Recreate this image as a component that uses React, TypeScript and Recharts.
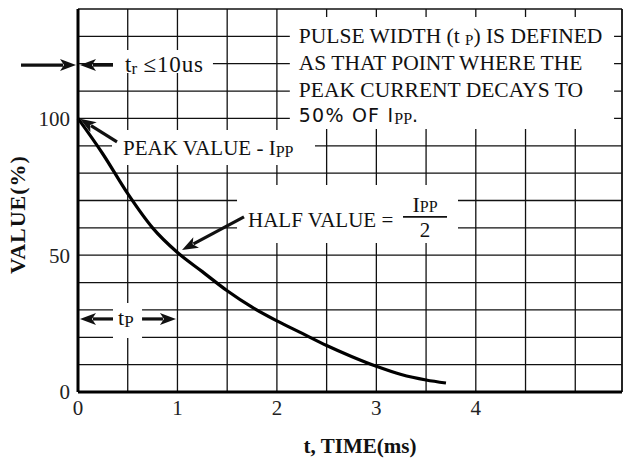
import React from "react";
import {
  LineChart,
  Line,
  XAxis,
  YAxis,
  CartesianGrid,
  ReferenceArea,
  ReferenceLine,
  Label,
} from "recharts";

// curve (t in ms, value in %)
const timeMs = [0, 0.25, 0.5, 0.75, 1, 1.25, 1.5, 1.75, 2, 2.25, 2.5, 2.75, 3, 3.25, 3.5, 3.7];
const valuePct = [100, 87, 72.5, 60, 51, 44, 37, 31, 26, 21.5, 17, 13, 9.4, 6.4, 4.4, 3.3];

const xGridTicks = [0, 0.5, 1, 1.5, 2, 2.5, 3, 3.5, 4, 4.5, 5];
const xTickLabels = [0, 1, 2, 3, 4];
const yGridTicks = [0, 10, 20, 30, 40, 50, 60, 70, 80, 90, 100, 110, 120, 130, 140];
const yTickLabels = [0, 50, 100];

const X_MAX = 5.47;
const Y_MAX = 140;

const chartData = timeMs.map((t, i) => ({ t, v: valuePct[i] }));

const SERIF = "'Liberation Serif', 'Times New Roman', serif";
const SANS = "'DejaVu Sans', sans-serif";
const INK = "#111";

// line with a filled arrowhead at (x2, y2)
const Arrow = (props: any) => {
  const { x1, y1, x2, y2 } = props;
  const ang = Math.atan2(y2 - y1, x2 - x1);
  const c = Math.cos(ang);
  const s = Math.sin(ang);
  const len = 16;
  const half = 6;
  const bx = x2 - len * c;
  const by = y2 - len * s;
  const px = -s * half;
  const py = c * half;
  return (
    <g>
      <line x1={x1} y1={y1} x2={bx + c * 3} y2={by + s * 3} stroke={INK} strokeWidth={3.2} />
      <polygon points={`${x2},${y2} ${bx + px},${by + py} ${bx + 4 * c},${by + 4 * s} ${bx - px},${by - py}`} fill={INK} />
    </g>
  );
};

const boxProps = { fill: "#fff", fillOpacity: 1, stroke: "none", ifOverflow: "visible" as const };

export default function App() {
  return (
    <div style={{ position: "absolute", left: 0, top: 0, width: 623, height: 459, background: "#fff" }}>
      <LineChart width={623} height={459} data={chartData} margin={{ top: 9, right: 1, bottom: 0, left: 0 }}>
        <CartesianGrid stroke={INK} strokeWidth={1.3} />
        <XAxis
          type="number"
          dataKey="t"
          domain={[0, X_MAX]}
          ticks={xGridTicks}
          interval={0}
          height={67}
          tickLine={false}
          axisLine={{ stroke: "#000", strokeWidth: 3 }}
          tick={{ fill: "#222", fontSize: 21, fontFamily: SERIF }}
          tickFormatter={(v: number) => (xTickLabels.includes(v) ? String(v) : "")}
        >
          <Label
            content={({ viewBox }: any) => (
              <text
                x={viewBox.x + viewBox.width / 2 + 10}
                y={viewBox.y + viewBox.height - 6}
                textAnchor="middle"
                fontFamily={SERIF}
                fontWeight="bold"
                fontSize={21}
                fill={INK}
              >
                t, TIME(ms)
              </text>
            )}
          />
        </XAxis>
        <YAxis
          type="number"
          domain={[0, Y_MAX]}
          ticks={yGridTicks}
          interval={0}
          width={78}
          tickLine={false}
          axisLine={{ stroke: "#000", strokeWidth: 3 }}
          tick={{ fill: "#222", fontSize: 21, fontFamily: SERIF }}
          tickFormatter={(v: number) => (yTickLabels.includes(v) ? String(v) : "")}
        >
          <Label
            content={({ viewBox }: any) => {
              const cx = viewBox.x + 25;
              const cy = viewBox.y + viewBox.height / 2 + 14;
              return (
                <text
                  x={cx}
                  y={cy}
                  transform={`rotate(-90, ${cx}, ${cy})`}
                  textAnchor="middle"
                  fontFamily={SERIF}
                  fontWeight="bold"
                  fontSize={22}
                  letterSpacing={1}
                  fill={INK}
                >
                  VALUE(%)
                </text>
              );
            }}
          />
        </YAxis>

        {/* right border */}
        <ReferenceLine x={X_MAX} stroke={INK} strokeWidth={1.5} ifOverflow="visible" />

        {/* white boxes behind the notes */}
        <ReferenceArea x1={0.352} x2={1.357} y1={116.6} y2={125} {...boxProps}>
          <Label
            content={({ viewBox }: any) => (
              <text x={viewBox.x + 12} y={viewBox.y + 22} fontFamily={SERIF} fontSize={23} fill={INK}>
                t<tspan fontSize={17} dy={2}>r</tspan>
                <tspan dy={-2} letterSpacing={0.8}> ≤10us</tspan>
              </text>
            )}
          />
        </ReferenceArea>
        <ReferenceArea x1={2.13} x2={5.39} y1={96.1} y2={137.1} {...boxProps}>
          <Label
            content={({ viewBox }: any) => {
              const x = viewBox.x + 9;
              const y = viewBox.y;
              return (
                <g fontFamily={SERIF} fontSize={21.5} fill={INK}>
                  <text x={x} y={y + 26}>
                    PULSE WIDTH (t <tspan fontSize={15} dy={2}>P</tspan>
                    <tspan dy={-2}>) IS DEFINED</tspan>
                  </text>
                  <text x={x} y={y + 53}>AS THAT POINT WHERE THE</text>
                  <text x={x} y={y + 80}>PEAK CURRENT DECAYS  TO</text>
                  <text x={x} y={y + 105} fontFamily={SANS} fontSize={19} letterSpacing={1.2}>
                    50% OF I<tspan fontFamily={SERIF} fontSize={16} letterSpacing={0} dy={2}>PP</tspan>
                    <tspan dy={-2}>.</tspan>
                  </text>
                </g>
              );
            }}
          />
        </ReferenceArea>
        <ReferenceArea x1={0.342} x2={2.383} y1={83} y2={95.8} {...boxProps}>
          <Label
            content={({ viewBox }: any) => (
              <text x={viewBox.x + 11} y={viewBox.y + 25} fontFamily={SERIF} fontSize={21} fill={INK}>
                PEAK VALUE - I<tspan fontSize={16} dy={2}>PP</tspan>
              </text>
            )}
          />
        </ReferenceArea>
        <ReferenceArea x1={1.599} x2={3.821} y1={54.5} y2={75.7} {...boxProps}>
          <Label
            content={({ viewBox }: any) => {
              const x = viewBox.x;
              const y = viewBox.y;
              return (
                <g fontFamily={SERIF} fill={INK}>
                  <text x={x + 11} y={y + 42} fontSize={21}>
                    HALF VALUE =
                  </text>
                  <text x={x + 188} y={y + 27} fontSize={22} textAnchor="middle">
                    I<tspan fontSize={16}>PP</tspan>
                  </text>
                  <line x1={x + 166} x2={x + 210} y1={y + 32} y2={y + 32} stroke={INK} strokeWidth={1.8} />
                  <text x={x + 188} y={y + 52} fontSize={21} textAnchor="middle">
                    2
                  </text>
                </g>
              );
            }}
          />
        </ReferenceArea>
        <ReferenceArea x1={0.352} x2={0.644} y1={19.7} y2={32.5} {...boxProps}>
          <Label
            content={({ viewBox }: any) => (
              <text x={viewBox.x + 5} y={viewBox.y + 22} fontFamily={SERIF} fontSize={22} fill={INK}>
                t<tspan fontSize={17} dy={2}>P</tspan>
              </text>
            )}
          />
        </ReferenceArea>

        {/* arrows */}
        <ReferenceLine segment={[{ x: -0.573, y: 119.5 }, { x: -0.02, y: 119.5 }]} shape={Arrow} ifOverflow="visible" />
        <ReferenceLine segment={[{ x: 0.352, y: 119.5 }, { x: 0.02, y: 119.5 }]} shape={Arrow} ifOverflow="visible" />
        <ReferenceLine segment={[{ x: 0.392, y: 91.4 }, { x: 0.02, y: 99.9 }]} shape={Arrow} ifOverflow="visible" />
        <ReferenceLine segment={[{ x: 1.669, y: 64 }, { x: 1.046, y: 51.9 }]} shape={Arrow} ifOverflow="visible" />
        <ReferenceLine segment={[{ x: 0.352, y: 26.7 }, { x: 0.02, y: 26.7 }]} shape={Arrow} ifOverflow="visible" />
        <ReferenceLine segment={[{ x: 0.644, y: 26.7 }, { x: 0.985, y: 26.7 }]} shape={Arrow} ifOverflow="visible" />

        <Line
          type="monotone"
          dataKey="v"
          stroke="#000"
          strokeWidth={3.2}
          dot={false}
          isAnimationActive={false}
        />
      </LineChart>
    </div>
  );
}
